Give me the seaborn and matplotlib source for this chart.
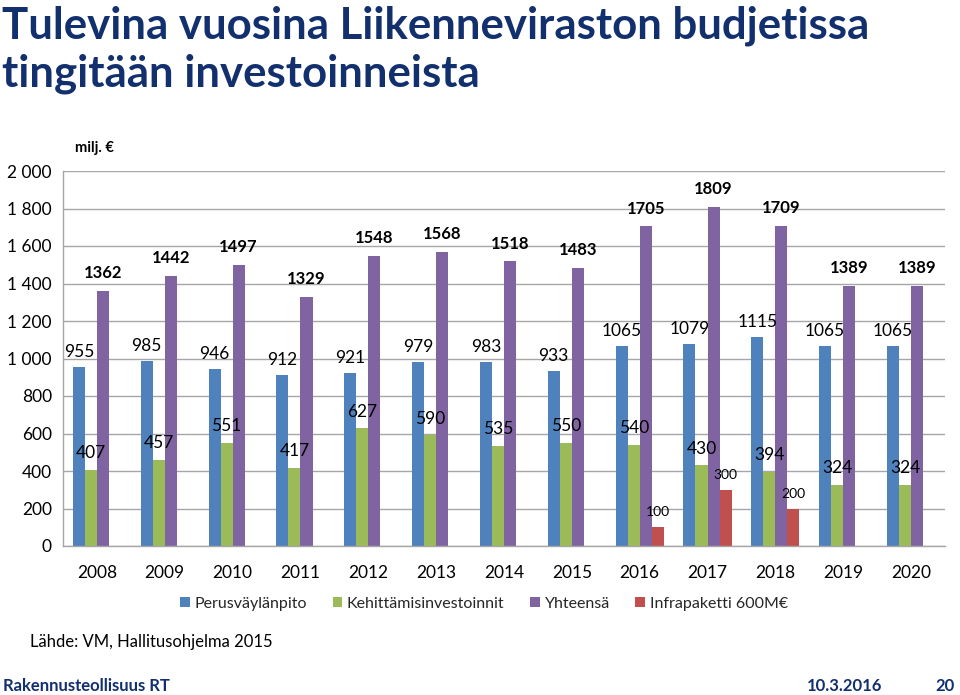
import matplotlib
matplotlib.use("Agg")
import matplotlib.pyplot as plt
import matplotlib.ticker as mticker
from matplotlib.patches import Patch
import seaborn as sns
import pandas as pd
import numpy as np

years = [str(y) for y in range(2008, 2021)]
perus = [955, 985, 946, 912, 921, 979, 983, 933, 1065, 1079, 1115, 1065, 1065]
kehit = [407, 457, 551, 417, 627, 590, 535, 550, 540, 430, 394, 324, 324]
yhteensa = [1362, 1442, 1497, 1329, 1548, 1568, 1518, 1483, 1705, 1809, 1709, 1389, 1389]
infra = [None, None, None, None, None, None, None, None, 100, 300, 200, None, None]

series_names = ["Perusväylänpito", "Kehittämisinvestoinnit", "Yhteensä", "Infrapaketti 600M€"]
colors = ["#4F81BD", "#9BBB59", "#8064A2", "#C0504D"]
yticks = [0, 200, 400, 600, 800, 1000, 1200, 1400, 1600, 1800, 2000]

rows = []
for name, vals in zip(series_names, [perus, kehit, yhteensa, infra]):
    for yr, v in zip(years, vals):
        if v is not None:
            rows.append({"Vuosi": yr, "Sarja": name, "Arvo": v})
df = pd.DataFrame(rows)

sns.set_theme(style="white")
plt.rcParams["font.family"] = ["Lato", "DejaVu Sans"]

fig = plt.figure(figsize=(9.6, 6.95), dpi=100)
ax = fig.add_axes([63/960, 149/695, 882/960, 375/695])

sns.barplot(data=df, x="Vuosi", y="Arvo", hue="Sarja", order=years,
            hue_order=series_names, palette=colors, width=0.71, gap=0,
            errorbar=None, saturation=1, ax=ax, legend=False, linewidth=0)

ax.set_ylim(0, 2000)
ax.set_xlim(-0.5, len(years) - 0.5)
ax.set_yticks(yticks)
ax.yaxis.set_major_formatter(mticker.FuncFormatter(lambda v, p: f"{int(v):,}".replace(",", " ")))
ax.grid(axis="y", color="#A6A6A6", linewidth=1)
ax.set_axisbelow(True)
for s in ["top", "right"]:
    ax.spines[s].set_visible(False)
for s in ["left", "bottom"]:
    ax.spines[s].set_color("#A6A6A6")
    ax.spines[s].set_linewidth(1)
ax.set_xlabel("")
ax.set_ylabel("")
ax.tick_params(axis="y", labelsize=12.5, length=0, pad=8, labelcolor="black")
ax.tick_params(axis="x", which="major", labelsize=12.5, length=0, pad=14, labelcolor="black")
ax.set_xticks(np.arange(-0.5, len(years) + 0.5, 1), minor=True)
ax.tick_params(axis="x", which="minor", length=5, color="#A6A6A6", width=1)

# data labels
label_style = {
    "Perusväylänpito": dict(fontsize=12.5, fontweight="normal", off=80),
    "Kehittämisinvestoinnit": dict(fontsize=12.5, fontweight="normal", off=90),
    "Yhteensä": dict(fontsize=12, fontweight="bold", off=95),
    "Infrapaketti 600M€": dict(fontsize=10, fontweight="normal", off=80),
}
for cont, name in zip(ax.containers, series_names):
    st = label_style[name]
    for bar in cont:
        h = bar.get_height()
        if h is None or np.isnan(h) or h == 0:
            continue
        ax.text(bar.get_x() + bar.get_width() / 2, h + st["off"], f"{int(h)}",
                ha="center", va="center", fontsize=st["fontsize"],
                fontweight=st["fontweight"], color="black")

# legend
handles = [Patch(facecolor=c, edgecolor="none", label=n) for c, n in zip(colors, series_names)]
fig.legend(handles=handles, loc="center", bbox_to_anchor=(484/960, 1 - 604/695), ncol=4,
           frameon=False, fontsize=11.5, handlelength=0.6, handleheight=0.6,
           handletextpad=0.3, columnspacing=1.6)

navy = "#13306E"
fig.text(2/960, 1 - 26/695, "Tulevina vuosina Liikenneviraston budjetissa", fontsize=31.5,
         fontweight="bold", color=navy, va="center", ha="left")
fig.text(2/960, 1 - 74/695, "tingitään investoinneista", fontsize=31.5,
         fontweight="bold", color=navy, va="center", ha="left")
fig.text(75/960, 1 - 148/695, "milj. €", fontsize=10.5, fontweight="bold", color="black",
         va="center", ha="left")
fig.text(30/960, 1 - 642/695, "Lähde: VM, Hallitusohjelma 2015", fontsize=12,
         color="black", va="center", ha="left")
fig.text(3/960, 1 - 686/695, "Rakennusteollisuus RT", fontsize=12, fontweight="bold",
         color=navy, va="center", ha="left")
fig.text(882/960, 1 - 686/695, "10.3.2016", fontsize=12, fontweight="bold",
         color=navy, va="center", ha="right")
fig.text(955/960, 1 - 686/695, "20", fontsize=12, fontweight="bold",
         color=navy, va="center", ha="right")

fig.savefig("out.png", dpi=100)
